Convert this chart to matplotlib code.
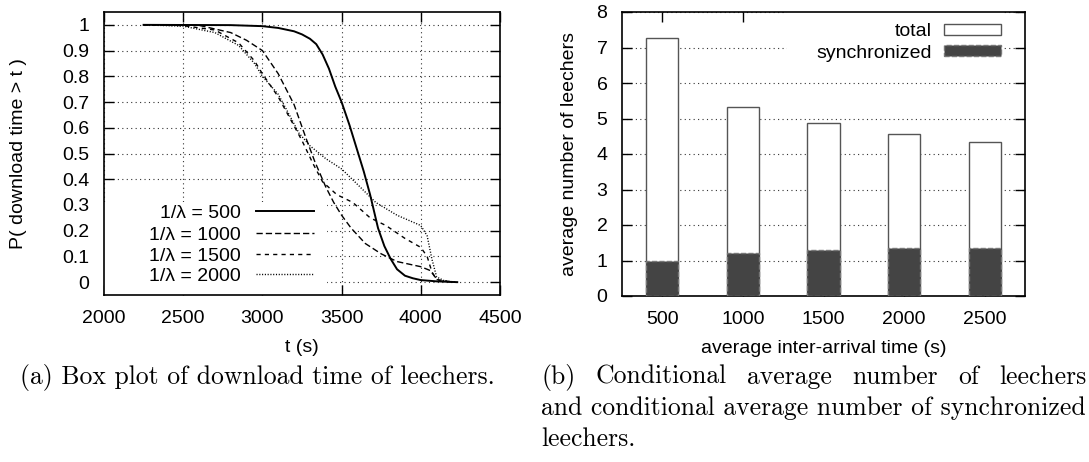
import matplotlib
matplotlib.use('Agg')
import matplotlib.pyplot as plt
from matplotlib.patches import Rectangle, Patch
from matplotlib.legend import Legend

plt.rcParams['font.family'] = ['Liberation Sans', 'DejaVu Sans']

# ---------------- data ----------------
# left panel: complementary CDF of download time, P(download time > t)
t_500 = [2250, 2800, 3000, 3100, 3200, 3250, 3300, 3340, 3380, 3420, 3460, 3500,
         3550, 3600, 3640, 3680, 3730, 3770, 3810, 3850, 3900, 3950, 4000, 4100, 4230]
p_500 = [1.0, 0.999, 0.995, 0.988, 0.975, 0.963, 0.946, 0.925, 0.885, 0.83, 0.76, 0.70,
         0.61, 0.51, 0.43, 0.34, 0.21, 0.14, 0.09, 0.05, 0.025, 0.015, 0.008, 0.003, 0.0]

t_1000 = [2250, 2600, 2800, 2900, 3000, 3100, 3200, 3275, 3330, 3400, 3450, 3500,
          3560, 3650, 3750, 3850, 4000, 4060, 4090, 4120, 4200]
p_1000 = [1.0, 0.998, 0.97, 0.94, 0.90, 0.81, 0.69, 0.56, 0.47, 0.37, 0.31, 0.26,
          0.21, 0.15, 0.11, 0.08, 0.06, 0.045, 0.02, 0.005, 0.0]

t_1500 = [2250, 2500, 2700, 2850, 2950, 3000, 3100, 3180, 3250, 3320, 3380, 3470,
          3570, 3680, 3780, 3900, 4000, 4040, 4070, 4100, 4200]
p_1500 = [1.0, 0.997, 0.98, 0.93, 0.86, 0.81, 0.72, 0.63, 0.55, 0.46, 0.39, 0.34,
          0.31, 0.25, 0.22, 0.17, 0.135, 0.10, 0.04, 0.01, 0.0]

t_2000 = [2250, 2500, 2700, 2850, 2950, 3000, 3100, 3170, 3230, 3300, 3400, 3500,
          3600, 3715, 3850, 4000, 4040, 4070, 4100, 4150, 4220]
p_2000 = [1.0, 0.995, 0.97, 0.92, 0.85, 0.80, 0.73, 0.65, 0.58, 0.53, 0.48, 0.44,
          0.38, 0.31, 0.26, 0.22, 0.18, 0.09, 0.02, 0.005, 0.0]

series_labels = ['1/λ = 500', '1/λ = 1000', '1/λ = 1500', '1/λ = 2000']

x_ticks_left = [2000, 2500, 3000, 3500, 4000, 4500]
y_ticks_left = [0, 0.1, 0.2, 0.3, 0.4, 0.5, 0.6, 0.7, 0.8, 0.9, 1]

# right panel: average number of leechers
inter_arrival = ['500', '1000', '1500', '2000', '2500']
total_leechers = [7.27, 5.31, 4.86, 4.55, 4.34]
sync_leechers = [0.98, 1.22, 1.29, 1.34, 1.35]
y_ticks_right = [0, 1, 2, 3, 4, 5, 6, 7, 8]
bar_labels = ['total', 'synchronized']

caption_a = '(a) Box plot of download time of leechers.'
caption_b = ['(b) Conditional average number of leechers',
             'and conditional average number of synchronized',
             'leechers.']

# ---------------- figure ----------------
W, H = 1089, 462
fig = plt.figure(figsize=(W / 100, H / 100), dpi=100)


def px_axes(l, t, r, b):
    return fig.add_axes([l / W, 1 - b / H, (r - l) / W, (b - t) / H])


ax1 = px_axes(104, 12, 500, 295)
ax2 = px_axes(622, 12, 1025, 296)

grid_kw = dict(color='#333333', linewidth=0.8, linestyle=(0, (1, 3)))
FS = 14

for ax in (ax1, ax2):
    ax.set_axisbelow(True)
    ax.tick_params(direction='in', length=7, width=1, top=True, right=True,
                   labelsize=FS, pad=10.5, colors='black')
    for s in ax.spines.values():
        s.set_linewidth(1.2)

# ---- left panel ----
styles = ['-', (0, (4.5, 2.2)), (0, (3, 3)), (0, (0.8, 1.2))]
lws = [1.4, 1.0, 1.0, 1.0]
handles1 = []
for t, p, st, lw, lab in zip([t_500, t_1000, t_1500, t_2000],
                             [p_500, p_1000, p_1500, p_2000],
                             styles, lws, series_labels):
    ln, = ax1.plot(t, p, color='black', linestyle=st, linewidth=lw, label=lab, zorder=3)
    handles1.append(ln)

ax1.set_xlim(2000, 4500)
ax1.set_ylim(-0.05, 1.05)
ax1.set_xticks(x_ticks_left)
ax1.set_xticklabels([str(v) for v in x_ticks_left])
ax1.set_yticks(y_ticks_left)
ax1.set_yticklabels(['%g' % v for v in y_ticks_left])
ax1.grid(True, **grid_kw)
ax1.set_xlabel('t (s)', fontsize=FS)
ax1.set_ylabel('P( download time > t )', fontsize=FS)
ax1.xaxis.set_label_coords(0.5, -0.155)
ax1.yaxis.set_label_coords(-0.195, 0.5)
ax1.add_patch(Rectangle((0, 0), 0.562, 0.33, transform=ax1.transAxes,
                        facecolor='white', edgecolor='none', zorder=1))

# gnuplot-style key: right-aligned text followed by the sample, one row each
row_y1 = [0.290, 0.212, 0.137, 0.066]
for h, lab, yy in zip(handles1, series_labels, row_y1):
    lg = Legend(ax1, [h], [lab], loc='center right', bbox_to_anchor=(0.530, yy),
                frameon=False, markerfirst=False, fontsize=FS,
                handlelength=3.0, handletextpad=0.75, borderpad=0,
                borderaxespad=0)
    ax1.add_artist(lg)

# ---- right panel ----
xpos = list(range(len(inter_arrival)))
ax2.bar(xpos, total_leechers, width=0.4, facecolor='white',
        edgecolor='#555555', linewidth=1.0, zorder=2, label=bar_labels[0])
ax2.bar(xpos, sync_leechers, width=0.4, facecolor='#444444',
        edgecolor='#777777', linewidth=1.0, linestyle='--', zorder=3,
        label=bar_labels[1])
ax2.set_xlim(-0.5, 4.5)
ax2.set_ylim(0, 8)
ax2.set_xticks(xpos)
ax2.set_xticklabels(inter_arrival)
ax2.set_yticks(y_ticks_right)
ax2.set_yticklabels([str(v) for v in y_ticks_right])
ax2.yaxis.grid(True, **grid_kw)
ax2.set_xlabel('average inter-arrival time (s)', fontsize=FS)
ax2.set_ylabel('average number of leechers', fontsize=FS)
ax2.xaxis.set_label_coords(0.5, -0.155)
ax2.yaxis.set_label_coords(-0.11, 0.5)
ax2.add_patch(Rectangle((0.409, 0.8), 0.536, 0.2, transform=ax2.transAxes,
                        facecolor='white', edgecolor='none', zorder=1))

handles2 = [Patch(facecolor='white', edgecolor='#555555', linewidth=1.0),
            Patch(facecolor='#444444', edgecolor='#777777', linewidth=1.0, linestyle='--')]
row_y2 = [0.930, 0.855]
for h, lab, yy in zip(handles2, bar_labels, row_y2):
    lg = Legend(ax2, [h], [lab], loc='center right', bbox_to_anchor=(0.940, yy),
                frameon=False, markerfirst=False, fontsize=FS,
                handlelength=2.93, handleheight=0.5, handletextpad=0.62,
                borderpad=0, borderaxespad=0)
    ax2.add_artist(lg)

# ---- captions ----
r = fig.canvas.get_renderer()
cap_kw = dict(family='cmr10', va='baseline')
probe = fig.text(0, 0, caption_b[1], fontsize=10, **cap_kw)
w10 = probe.get_window_extent(r).width
probe.remove()
cfs = 10 * 546 / w10

fig.text(20 / W, 1 - 384 / H, caption_a, fontsize=cfs, **cap_kw)

x0, x1 = 541, 1087
words = caption_b[0].split(' ')
texts = [fig.text(0, 1 - 384 / H, w_, fontsize=cfs, **cap_kw) for w_ in words]
wws = [t_.get_window_extent(r).width for t_ in texts]
gap = ((x1 - x0) - sum(wws)) / (len(words) - 1)
x = x0
for t_, w_ in zip(texts, wws):
    t_.set_x(x / W)
    x += w_ + gap
fig.text(x0 / W, 1 - 415 / H, caption_b[1], fontsize=cfs, **cap_kw)
fig.text(x0 / W, 1 - 446 / H, caption_b[2], fontsize=cfs, **cap_kw)

fig.savefig('out.png', dpi=100)
